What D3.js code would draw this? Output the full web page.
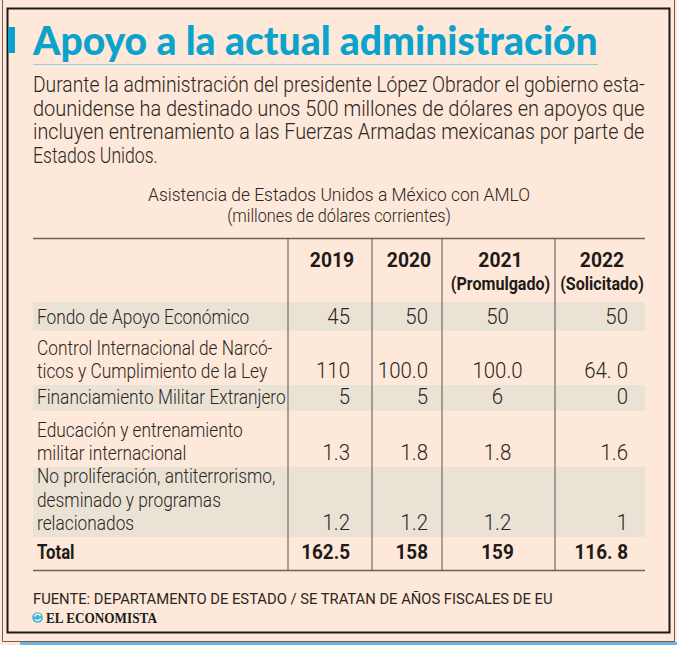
<!DOCTYPE html>
<html>
<head>
<meta charset="utf-8">
<script src="https://cdn.jsdelivr.net/npm/d3@7"></script>
<style>
  html, body { margin: 0; padding: 0; background: #fde8d9; }
  svg { display: block; }
  .light { font-family: Roboto, "Open Sans", sans-serif; font-weight: 300; fill: #2b2622; }
  .bold { font-family: Roboto, "Open Sans", sans-serif; font-weight: 700; fill: #1e1a17; }
</style>
</head>
<body>
<svg id="chart" width="677" height="645"></svg>
<script>
// Apoyo a la actual administración — tabla de asistencia EU a México (millones de dólares)

const title = "Apoyo a la actual administración";
const intro = [
  "Durante la administración del presidente López Obrador el gobierno esta-",
  "dounidense ha destinado unos 500 millones de dólares en apoyos que",
  "incluyen entrenamiento a las Fuerzas Armadas mexicanas por parte de",
  "Estados Unidos."
];
const tableTitle = ["Asistencia de Estados Unidos a México con AMLO", "(millones de dólares corrientes)"];

const years = ["2019", "2020", "2021", "2022"];
const yearNotes = ["", "", "(Promulgado)", "(Solicitado)"];

const rowLabels = [
  ["Fondo de Apoyo Económico"],
  ["Control Internacional de Narcó-", "ticos y Cumplimiento de la Ley"],
  ["Financiamiento Militar Extranjero"],
  ["Educación y entrenamiento", "militar internacional"],
  ["No proliferación, antiterrorismo,", "desminado y programas", "relacionados"]
];
const values2019 = ["45", "110", "5", "1.3", "1.2"];
const values2020 = ["50", "100.0", "5", "1.8", "1.2"];
const values2021 = ["50", "100.0", "6", "1.8", "1.2"];
const values2022 = ["50", "64. 0", "0", "1.6", "1"];
const totals = ["162.5", "158", "159", "116. 8"];

const source = "FUENTE: DEPARTAMENTO DE ESTADO / SE TRATAN DE AÑOS FISCALES DE EU";
const brand = "EL ECONOMISTA";

const series = [values2019, values2020, values2021, values2022];

const svg = d3.select("#chart");
const CYAN = "#0ba3cc";

// The original face is a light condensed one: each text sits in its own group
// and is scaled horizontally, either by a factor (k) or to a target width (w).
function label(parent, str, x, y, o) {
  const g = parent.append("g").attr("transform", `translate(${x},${y})`);
  const t = g.append("text").attr("class", o.cls || "light")
    .attr("font-size", o.size).attr("text-anchor", o.anchor || "start").text(str);
  if (o.style) Object.entries(o.style).forEach(([k, v]) => t.style(k, v));
  if (o.fill) t.style("fill", o.fill);
  const n = t.node().getComputedTextLength();
  const k = o.w ? o.w / n : (o.k || 1);
  g.attr("transform", `translate(${x},${y}) scale(${k},1)`);
  return t;
}

// frame
svg.append("rect").attr("x", 20).attr("y", 642).attr("width", 657).attr("height", 3).attr("fill", "#6fb3dc");
svg.append("path").attr("d", "M2.5,0 V641.5 H674.5 V0").attr("fill", "none").attr("stroke", "#6b6159").attr("stroke-width", 1);
svg.append("rect").attr("x", 7.5).attr("y", 8.5).attr("width", 662).attr("height", 624)
  .attr("fill", "#fde8d9").attr("stroke", "#1d1a18").attr("stroke-width", 2);

// title
svg.append("rect").attr("x", 8).attr("y", 27).attr("width", 7).attr("height", 26).attr("fill", CYAN);
label(svg, title, 33, 55, {
  size: 39, w: 565, fill: CYAN,
  style: { "font-family": "Lato, Roboto, sans-serif", "font-weight": 900 }
});
svg.append("line").attr("x1", 33).attr("x2", 598).attr("y1", 64.5).attr("y2", 64.5)
  .attr("stroke", "#8fcfe2").attr("stroke-width", 1.2);

// intro paragraph (justified to the table width, last line ragged)
const introLine = d3.scaleLinear().domain([0, 1]).range([92, 115.7]);
const introG = svg.append("g");
intro.forEach((line, i) => {
  label(introG, line, 33, introLine(i), i < intro.length - 1 ? { size: 22, w: 612 } : { size: 22, k: 0.8 });
});

// table title
const tableTitleWidths = [382, 224];
const ttG = svg.append("g");
tableTitle.forEach((line, i) => {
  label(ttG, line, 339, 201 + i * 21, { size: 18.5, w: tableTitleWidths[i], anchor: "middle" });
});

// table geometry
const tableLeft = 33, tableRight = 645, tableTop = 238.5, headerBottom = 302;
const colEdges = d3.scaleOrdinal().domain([0, 1, 2, 3, 4]).range([288, 372, 442, 555, 645]);
// value anchor per column: right aligned except the wide third column (centred)
const valueX = j => j === 2 ? (colEdges(j) + colEdges(j + 1)) / 2 - 1 : colEdges(j + 1) - [22, 14, 0, 17][j];
const valueAnchor = j => j === 2 ? "middle" : "end";
const lineH = 23.5;
const rowHeights = [29, 54, 26, 56, 70];
const rowTops = [headerBottom, ...d3.cumsum(rowHeights).map(v => headerBottom + v)];
const totalTop = rowTops[rowLabels.length];
const tableBottom = totalTop + 33.5;

const rows = rowLabels.map((lab, i) => ({
  i, lab, top: rowTops[i], h: rowHeights[i],
  vals: series.map(s => s[i])
}));

// shaded bands
svg.append("g").selectAll("rect").data(rows.filter(r => r.i % 2 === 0)).join("rect")
  .attr("x", tableLeft).attr("width", tableRight - tableLeft)
  .attr("y", d => d.top).attr("height", d => d.h)
  .attr("fill", "#ebe2d6");

// rules
svg.append("g").selectAll("line").data([tableTop, tableBottom]).join("line")
  .attr("x1", tableLeft).attr("x2", tableRight).attr("y1", d => d).attr("y2", d => d)
  .attr("stroke", "#6e645c").attr("stroke-width", 1.5);
svg.append("g").selectAll("line").data([0, 1, 2, 3]).join("line")
  .attr("x1", d => colEdges(d)).attr("x2", d => colEdges(d))
  .attr("y1", tableTop).attr("y2", tableBottom)
  .attr("stroke", "#5c534c").attr("stroke-width", 1);

// header
const head = svg.append("g");
years.forEach((y, j) => {
  const cx = (colEdges(j) + colEdges(j + 1)) / 2 + 2;
  label(head, y, cx, 267, { cls: "bold", size: 21, k: 0.92, anchor: "middle" });
  if (yearNotes[j]) label(head, yearNotes[j], cx, 290, { cls: "bold", size: 18.5, k: 0.87, anchor: "middle" });
});

// body rows
const body = svg.append("g");
rows.forEach(r => {
  const last = r.top + r.h - 7;
  const n = r.lab.length;
  r.lab.forEach((t, k) => {
    label(body, t, 37, last - (n - 1 - k) * lineH, { size: 20, k: 0.865 });
  });
  r.vals.forEach((v, j) => {
    label(body, v, valueX(j), last, { size: 21.5, k: 0.95, anchor: valueAnchor(j) });
  });
});

// total row
label(body, "Total", 37, totalTop + 22, { cls: "bold", size: 20, k: 0.84 });
totals.forEach((v, j) => {
  label(body, v, valueX(j), totalTop + 22, { cls: "bold", size: 21, k: 0.9, anchor: valueAnchor(j) });
});

// footer
label(svg, source, 33, 604, { size: 15.5, w: 520, style: { "font-weight": 400 } });
const logo = svg.append("g").attr("transform", "translate(37.5,617.5)");
logo.append("circle").attr("r", 5.3).attr("fill", "#4bb3d8");
logo.append("path").attr("d", "M-3,-1 A3.2,3.2 0 0 1 3,-1.5 M-2.5,1.8 A3.4,3.4 0 0 0 3.2,1")
  .attr("fill", "none").attr("stroke", "#fff").attr("stroke-width", 1.2);
label(svg, brand, 46, 622.5, {
  size: 15, w: 111, fill: "#1b1b1b",
  style: { "font-family": "'Liberation Serif', 'DejaVu Serif', serif", "font-weight": 700 }
});
</script>
</body>
</html>
